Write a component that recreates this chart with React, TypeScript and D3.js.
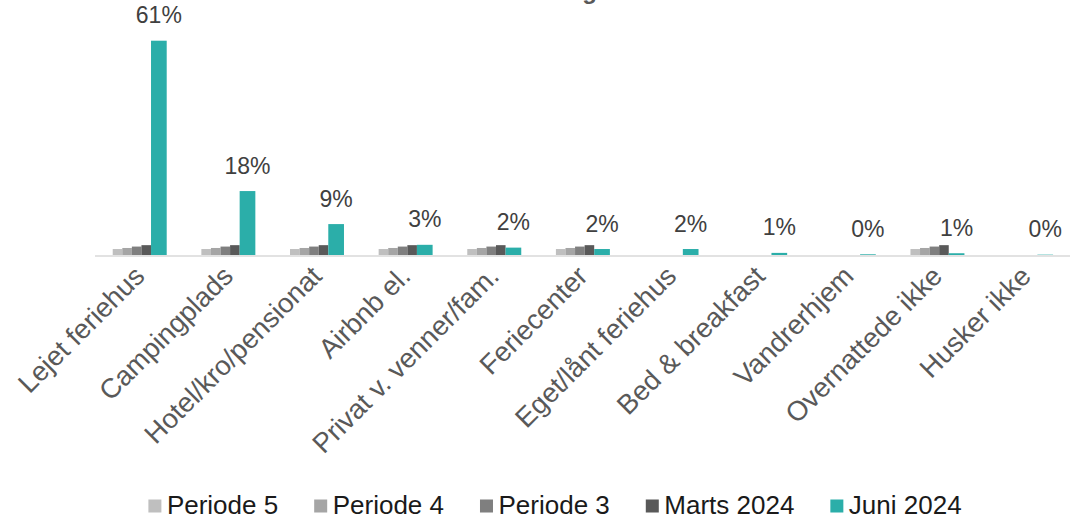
import React from 'react';
import * as d3 from 'd3';

const categories = [
  'Lejet feriehus',
  'Campingplads',
  'Hotel/kro/pensionat',
  'Airbnb el.',
  'Privat v. venner/fam.',
  'Feriecenter',
  'Eget/lånt feriehus',
  'Bed & breakfast',
  'Vandrerhjem',
  'Overnattede ikke',
  'Husker ikke',
];
const seriesNames = ['Periode 5', 'Periode 4', 'Periode 3', 'Marts 2024', 'Juni 2024'];
const periode5 = [1.7, 1.7, 1.7, 1.7, 1.7, 1.7, 0, 0, 0, 1.7, 0];
const periode4 = [2.0, 2.0, 2.0, 2.0, 2.0, 2.0, 0, 0, 0, 2.0, 0];
const periode3 = [2.4, 2.4, 2.4, 2.4, 2.4, 2.4, 0, 0, 0, 2.4, 0];
const marts2024 = [2.8, 2.8, 2.8, 2.8, 2.8, 2.8, 0, 0, 0, 2.8, 0];
const juni2024 = [61, 18.2, 8.8, 2.9, 2.1, 1.7, 1.7, 0.6, 0.2, 0.5, 0.1];
const juniLabels = ['61%', '18%', '9%', '3%', '2%', '2%', '2%', '1%', '0%', '1%', '0%'];
const seriesColors = ['#bfbfbf', '#a5a5a5', '#7f7f7f', '#595959', '#2baea9'];
const titleText = 'Overnatning';

const W = 1089;
const H = 521;
const FONT = "'Liberation Sans', Arial, sans-serif";

function measure(text: string, size: number): number {
  const c = document.createElement('canvas').getContext('2d');
  if (!c) return text.length * size * 0.55;
  c.font = `${size}px 'Liberation Sans'`;
  return c.measureText(text).width;
}

export default function App() {
  const x = d3.scaleBand<string>().domain(categories).range([95, 1070]).paddingInner(0).paddingOuter(0);
  const y = d3.scaleLinear().domain([0, 61]).range([255, 40.7]);
  const bw = x.bandwidth();
  const offset = bw * 0.2;
  const grayW = bw * 0.108;
  const juniW = bw * 0.177;
  const grays = [periode5, periode4, periode3, marts2024];

  // legend layout
  const legendSize = 26;
  const sq = 13;
  const gapText = 5.5;
  const gapItem = 36;
  const widths = seriesNames.map((n) => measure(n, legendSize));
  const total = widths.reduce((a, w) => a + sq + gapText + w, 0) + gapItem * (seriesNames.length - 1);
  let lx = 555 - total / 2;
  const legendItems = seriesNames.map((n, i) => {
    const item = { name: n, x: lx, color: seriesColors[i] };
    lx += sq + gapText + widths[i] + gapItem;
    return item;
  });

  return (
    <svg
      width={W}
      height={H}
      style={{ position: 'absolute', left: 0, top: 0, background: '#fff', fontFamily: FONT }}
    >
      <text x={597} y={-1} textAnchor="end" fontSize={24} fontWeight="bold" fill="#595959">
        {titleText}
      </text>
      {categories.map((c, i) => {
        const x0 = (x(c) as number) + offset;
        return (
          <g key={c}>
            {grays.map((s, k) =>
              s[i] > 0 ? (
                <rect
                  key={k}
                  x={x0 + k * grayW}
                  y={y(s[i])}
                  width={grayW}
                  height={y(0) - y(s[i])}
                  fill={seriesColors[k]}
                />
              ) : null
            )}
            <rect
              x={x0 + 4 * grayW}
              y={y(juni2024[i])}
              width={juniW}
              height={y(0) - y(juni2024[i])}
              fill={seriesColors[4]}
            />
            <text
              x={x0 + 4 * grayW + juniW / 2}
              y={y(juni2024[i]) - 17.4}
              textAnchor="middle"
              fontSize={23}
              fill="#404040"
            >
              {juniLabels[i]}
            </text>
          </g>
        );
      })}
      <line x1={95} x2={1070} y1={256} y2={256} stroke="#d9d9d9" strokeWidth={1.5} />
      {categories.map((c) => {
        const cx = (x(c) as number) + bw / 2;
        return (
          <text
            key={c}
            transform={`translate(${cx - 7},${264}) rotate(-45)`}
            textAnchor="end"
            dy="0.71em"
            fontSize={27.5}
            fill="#595959"
          >
            {c}
          </text>
        );
      })}
      {legendItems.map((it) => (
        <g key={it.name}>
          <rect x={it.x} y={499.5} width={sq} height={sq} fill={it.color} />
          <text x={it.x + sq + gapText} y={514} fontSize={legendSize} fill="#1a1a1a">
            {it.name}
          </text>
        </g>
      ))}
    </svg>
  );
}
